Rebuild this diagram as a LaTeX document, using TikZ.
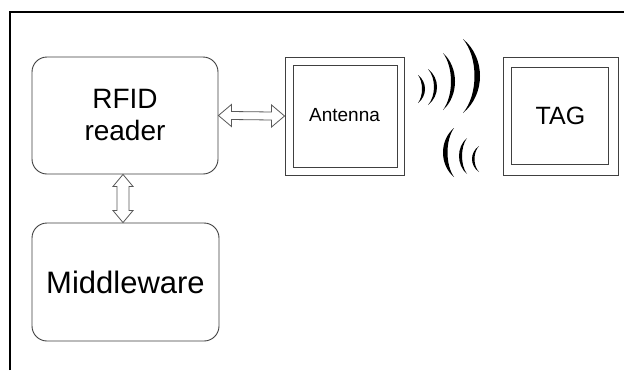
\documentclass[tikz,border=0pt]{standalone}
\usepackage{fontspec}
\setmainfont{Liberation Sans}
\usetikzlibrary{calc}
\newcommand{\wavearc}[5]{%
  \fill[black] (#1,#2) .. controls ({#1+(#4-#1)/0.75},{#2+(#3-#2)/4}) and ({#1+(#4-#1)/0.75},{#3-(#3-#2)/4}) .. (#1,#3)
    .. controls ({#1+(#5-#1)/0.75},{#3-(#3-#2)/4}) and ({#1+(#5-#1)/0.75},{#2+(#3-#2)/4}) .. cycle;}
\begin{document}
\begin{tikzpicture}[x=1pt,y=-1pt,
  rbox/.style={draw=black!75, line width=0.9pt, rounded corners=15pt, fill=white, align=center, inner sep=0pt},
  obox/.style={draw=black!75, line width=0.9pt, inner sep=0pt},
  ibox/.style={draw=black!75, line width=0.9pt},
  dblarrow/.style={draw=black!65, line width=0.8pt, fill=white, line join=miter}]
\useasboundingbox (0,0) rectangle (624,370);
\fill[white] (0,0) rectangle (624,370);
% frame
\draw[line width=1.6pt] (10,370) -- (10,12) -- (624,12);
% nodes
\node[rbox, minimum width=186pt, minimum height=117pt, font=\fontsize{28}{32}\selectfont] (reader) at (125,115.5) {RFID\\reader};
\node[rbox, minimum width=187pt, minimum height=118pt, font=\fontsize{31}{36}\selectfont] (mw) at (125.5,282) {Middleware};
\node[obox, minimum width=119pt, minimum height=118pt, font=\fontsize{19}{22}\selectfont] (ant) at (344.5,116) {\raisebox{3pt}{Antenna}};
\draw[ibox] ($(ant.north west)+(9,9)$) rectangle ($(ant.south east)+(-7,-8)$);
\node[obox, minimum width=115pt, minimum height=118pt, font=\fontsize{25}{29}\selectfont] (tag) at (560.5,116) {\raisebox{-3pt}{TAG}\hspace{18pt}};
\draw[ibox] ($(tag.north west)+(9,11)$) rectangle ($(tag.south east)+(-10,-11)$);
% horizontal double arrow
\coordinate (ha) at (reader.east);
\coordinate (hb) at (ant.west);
\draw[dblarrow] (ha) -- ++(13,-11) -- ++(0,7) -- ($(hb)+(-13,-4)$) -- ++(0,-7) -- (hb)
  -- ++(-13,11) -- ++(0,-7) -- ($(ha)+(13,4)$) -- ++(0,7) -- cycle;
% vertical double arrow
\coordinate (va) at ($(reader.south)+(-2,0)$);
\coordinate (vb) at ($(mw.north)+(-2.5,0)$);
\draw[dblarrow] (va) -- ++(10,12) -- ++(-4,0) -- ($(vb)+(6,-12)$) -- ++(4,0) -- (vb)
  -- ++(-10,-12) -- ++(4,0) -- ($(va)+(-6,12)$) -- ++(-4,0) -- cycle;
% waves towards tag
\wavearc{418}{75}{103}{425}{422}
\wavearc{428}{69}{105}{437}{434}
\wavearc{443}{53}{110}{455}{451}
\wavearc{463}{39}{113}{480}{474.5}
% waves back
\wavearc{454}{128}{177}{443}{447.5}
\wavearc{467}{138}{174}{459}{462}
\wavearc{479}{146}{172}{472}{474.5}
\end{tikzpicture}
\end{document}
